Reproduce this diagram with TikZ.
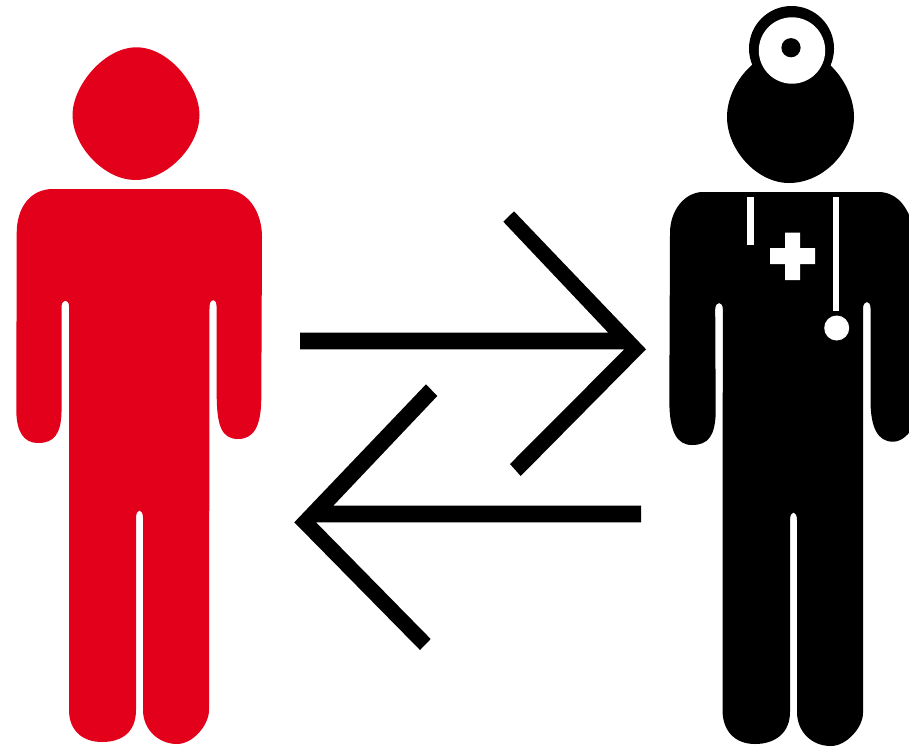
\documentclass[tikz,border=0pt]{standalone}
\definecolor{pred}{HTML}{E2001A}
\begin{document}
\begin{tikzpicture}[x=0.75pt,y=-0.75pt]
\useasboundingbox (0,0) rectangle (909,747);
\clip (0,0) rectangle (909,747);
% red person head
\fill[pred] (136.5,47.3) .. controls (169,47.3) and (199.5,86) .. (199.5,115)
  .. controls (199.5,146) and (167,180) .. (135.5,180)
  .. controls (104,180) and (72.5,146) .. (72.5,115)
  .. controls (72.5,86) and (104,47.3) .. (136.5,47.3) -- cycle;
% red person body
\fill[pred] (53,189) -- (223,189)
  .. controls (248,189) and (262,212) .. (262,237)
  -- (261.3,397)
  .. controls (261.3,426) and (254,439) .. (238,439)
  .. controls (222,439) and (217,426) .. (216.7,397)
  -- (216.5,306) .. controls (216.5,298) and (210,298) .. (209.5,306)
  -- (209,710)
  .. controls (209,725) and (193,744) .. (177,744)
  .. controls (159,744) and (143,730) .. (143,710)
  -- (143,518) .. controls (143,508) and (136,508) .. (136,518)
  -- (136,710)
  .. controls (136,732) and (122,742) .. (102,742)
  .. controls (82,742) and (69,730) .. (69,710)
  -- (69,306) .. controls (69,299) and (62,299) .. (61.5,306)
  -- (61.5,412)
  .. controls (61,434) and (54,443) .. (38,443)
  .. controls (24,443) and (16.3,432) .. (16.3,410)
  -- (16.7,233)
  .. controls (16.7,208) and (30,189) .. (53,189) -- cycle;
% doctor head
\fill[black] (752,65) .. controls (737,78) and (727,98) .. (727,117)
  .. controls (727,150) and (757,183) .. (789,183)
  .. controls (824,183) and (854,150) .. (854,117)
  .. controls (854,98) and (844,78) .. (830,65) -- cycle;
\fill[black] (791.5,48.5) circle [radius=42.5];
\fill[white] (792,50.5) circle [radius=33.2];
\fill[black] (791,47.7) circle [radius=9.6];
% doctor body
\fill[black] (703,192) -- (878,192)
  .. controls (895,192) and (905,203) .. (912,222)
  -- (915,425)
  .. controls (909,434) and (902,441.7) .. (893,441.7)
  .. controls (878,441.7) and (871,428) .. (870.5,403)
  -- (870.5,308) .. controls (870.5,300) and (863.5,300) .. (863,308)
  -- (863,713)
  .. controls (863,727) and (847,746) .. (830.7,746)
  .. controls (812,746) and (797,732) .. (797,712)
  -- (797,520) .. controls (797,510) and (790,510) .. (790,520)
  -- (790,712)
  .. controls (790,733) and (775,744) .. (755,744)
  .. controls (735,744) and (722.5,731) .. (722.5,710)
  -- (722.8,309) .. controls (722.8,301) and (715.5,301) .. (715.2,309)
  -- (715.7,413)
  .. controls (715,436) and (708,445) .. (692,445)
  .. controls (677,445) and (669.3,432) .. (669.3,400)
  -- (670,233)
  .. controls (670,210) and (685,192) .. (703,192) -- cycle;
% stethoscope and cross
\fill[white] (747,197) rectangle (754,245);
\fill[white] (832.7,197) rectangle (839.3,311);
\fill[white] (836.7,328) circle [radius=12.5];
\fill[white] (785,232.7) -- (800,232.7) -- (800,248) -- (815,248) -- (815,264) -- (800,264)
  -- (800,280) -- (785,280) -- (785,264) -- (770,264) -- (770,248) -- (785,248) -- cycle;
% arrows
\fill[black] (300,332.7) -- (608.3,332.7) -- (503.3,221.7) -- (514,211.3) -- (646,349.3)
  -- (520.7,476) -- (510,464) -- (624.3,349.3) -- (300,349.3) -- cycle;
\fill[black] (641,505.7) -- (333.3,505.7) -- (437.3,396) -- (426,384.3) -- (294.3,522.3)
  -- (420,650) -- (430.7,639) -- (316,522.3) -- (641,522.3) -- cycle;
\end{tikzpicture}
\end{document}
